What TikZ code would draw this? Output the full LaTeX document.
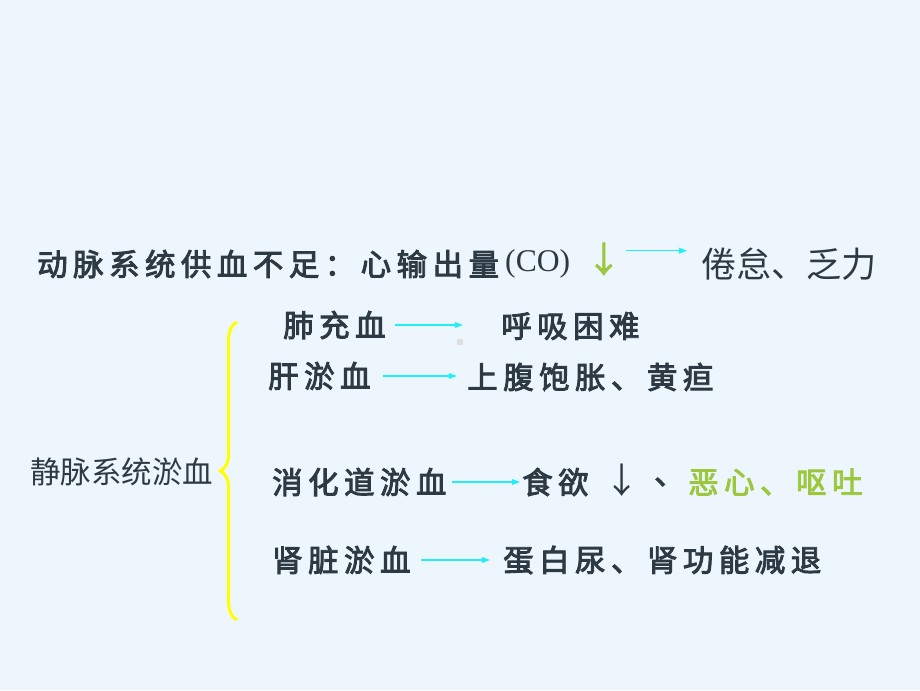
\documentclass[tikz,border=0pt]{standalone}
\usepackage{fontspec}
\setmainfont{Liberation Serif}
\newfontfamily\cjk{Noto Sans CJK SC}
\newfontfamily\cjkarrow[FakeBold=2]{Noto Sans CJK SC}
\newfontfamily\cjkb[FakeBold=3,LetterSpace=18]{Noto Sans CJK SC}
\usetikzlibrary{arrows.meta,positioning,decorations.pathreplacing}
\definecolor{bgblue}{HTML}{EEF6FD}
\definecolor{inkdark}{HTML}{2D3A43}
\definecolor{leafgreen}{HTML}{9CC73E}
\definecolor{linkcyan}{HTML}{22EEF8}
\definecolor{braceyellow}{HTML}{FFFF00}
\tikzset{
  bold text/.style={inner sep=0pt, anchor=west, text=inkdark, font=\cjkb\fontsize{26}{30}\selectfont},
  plain text/.style={inner sep=0pt, anchor=west, text=inkdark, font=\cjk\fontsize{28}{32}\selectfont},
  link/.style={draw=linkcyan, line width=1pt, -{Triangle[length=7pt,width=5pt]}},
}
\begin{document}
\begin{tikzpicture}[x=0.03cm, y=-0.03cm]
	\fill[bgblue] (0,0) rectangle (920,690);
	\useasboundingbox (0,0) rectangle (920,690);
	% arterial line
	\node[bold text] (gongxue) at (37,264) {动脉系统供血不足：心输出量};
	\node[inner sep=0pt, anchor=west, text=inkdark, font=\fontsize{27}{30}\selectfont] (co) at (505,264) {(CO)};
	\node[plain text, text=leafgreen, font=\cjkarrow\fontsize{30}{32}\selectfont] (down1) at (586,259) {↓};
	\node[plain text, font=\cjk\fontsize{30}{34}\selectfont] (juandai) at (701,264) {倦怠、乏力};
	\draw[link] ([xshift=0.12cm,yshift=0.4cm]down1.east |- juandai.west) -- ([xshift=-0.42cm,yshift=0.4cm]juandai.west);
	% venous part
	\node[plain text, font=\cjk\fontsize{26}{30}\selectfont] (jingmai) at (30,472) {静脉系统淤血};
	\draw[braceyellow, line width=2.6pt, decorate, decoration={brace, amplitude=0.5cm}] (237,620) -- (237,322);
	\node[bold text] (fei) at (283,325) {肺充血};
	\node[bold text] (huxi) at (501,326) {呼吸困难};
	\draw[link, shorten <=0.27cm, shorten >=1.14cm] (fei.east) -- (fei.east -| huxi.west);
	\fill[gray!25] (457,339) rectangle (463,345);
	\node[bold text] (gan) at (268,376) {肝淤血};
	\node[bold text] (fuzhang) at (467,377) {上腹饱胀、黄疸};
	\draw[link, shorten <=0.36cm, shorten >=0.3cm] (gan.east) -- (gan.east -| fuzhang.west);
	\node[bold text] (xiaohua) at (272,482) {消化道淤血};
	\node[bold text] (shiyu) at (522,482) {食欲};
	\node[plain text, font=\cjk\fontsize{30}{34}\selectfont] (down2) at (604,480) {↓};
	\node[bold text] (dun) at (654,482) {、};
	\node[bold text, text=leafgreen] (exin) at (688,482) {恶心、呕吐};
	\draw[link, shorten <=0.15cm, shorten >=0.06cm] (xiaohua.east) -- (xiaohua.east -| shiyu.west);
	\node[bold text] (shen) at (272,560) {肾脏淤血};
	\node[bold text] (danbai) at (503,560) {蛋白尿、肾功能减退};
	\draw[link, shorten <=0.3cm, shorten >=0.39cm] (shen.east) -- (shen.east -| danbai.west);
\end{tikzpicture}
\end{document}
